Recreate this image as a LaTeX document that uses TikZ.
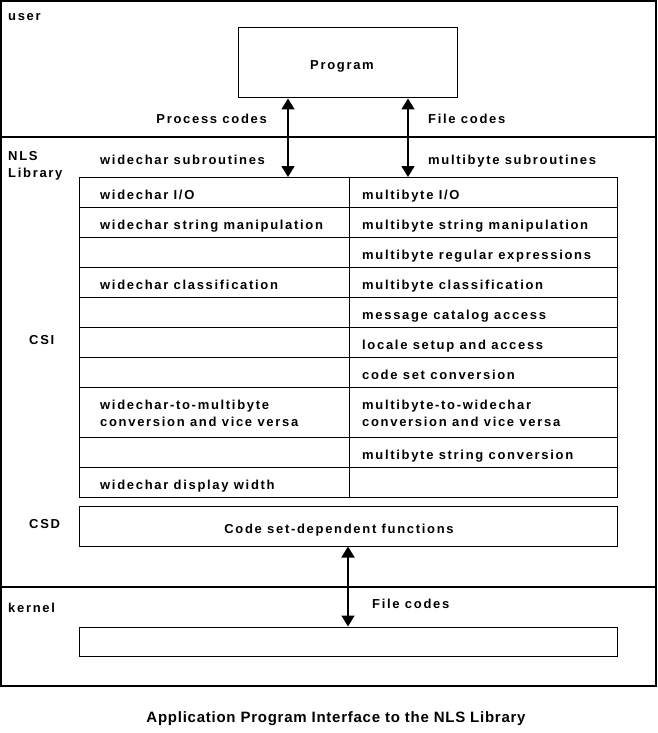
\documentclass[tikz,border=0pt]{standalone}
\usepackage{fontspec}
\setmainfont{Liberation Sans}
\newfontfamily\lblfont[LetterSpace=13]{Liberation Sans}
\newfontfamily\capfont[LetterSpace=5]{Liberation Sans}
\usetikzlibrary{arrows.meta}
\begin{document}
\begin{tikzpicture}[x=1pt,y=-1pt,
  lbl/.style={font=\lblfont\bfseries\fontsize{13}{17}\selectfont, inner sep=0pt, align=left},
  captext/.style={font=\capfont\bfseries\fontsize{15}{17}\selectfont, inner sep=0pt},
  frame/.style={draw=black, line width=1.6pt},
  box/.style={draw=black, line width=1pt, inner sep=0pt},
  dbl/.style={line width=1.6pt, {Triangle[length=11pt,width=13pt]}-{Triangle[length=11pt,width=13pt]}}]
\useasboundingbox (0,0) rectangle (658,733);
% outer frame and layer separators
\draw[frame] (1,1) rectangle (656,686);
\draw[frame] (1,137) -- (656,137);
\draw[frame] (1,587) -- (656,587);
% layer labels
\node[lbl, anchor=base west] (user) at (8,21) {user};
\node[lbl, anchor=base west] (nls) at (8,177) {NLS\\Library};
\node[lbl, anchor=base west] (csi) at (29,344) {CSI};
\node[lbl, anchor=base west] (csd) at (29,528) {CSD};
\node[lbl, anchor=base west] (kern) at (8,612) {kernel};
% program box
\node[box, minimum width=219pt, minimum height=70pt] (prog) at (347.5,63) {};
\node[lbl, anchor=base] (progt) at (342,70) {Program};
% table
\coordinate (tl) at (79,177);
\coordinate (aL) at (288,177);
\coordinate (aR) at (408,177);
\draw[line width=1pt] (79,177) rectangle (617,497);
\foreach \yy in {207,237,267,297,327,357,387,437,467}
  \draw[line width=1pt] (79,\yy) -- (617,\yy);
\draw[line width=1pt] (349,177) -- (349,497);
% arrows from program
\draw[dbl] (prog.south -| aL) -- (aL);
\draw[dbl] (prog.south -| aR) -- (aR);
\node[lbl, anchor=base east] (pc) at (267,124) {Process codes};
\node[lbl, anchor=base west] (fc) at (428,124) {File codes};
\node[lbl, anchor=base west] (ws) at (100,164) {widechar subroutines};
\node[lbl, anchor=base west] (ms) at (428,164) {multibyte subroutines};
% left column
\node[lbl, anchor=base west] (l1) at (100,199) {widechar I/O};
\node[lbl, anchor=base west] (l2) at (100,229) {widechar string manipulation};
\node[lbl, anchor=base west] (l4) at (100,289) {widechar classification};
\node[lbl, anchor=base west] (l8) at (100,426) {widechar-to-multibyte\\conversion and vice versa};
\node[lbl, anchor=base west] (l10) at (100,489) {widechar display width};
% right column
\node[lbl, anchor=base west] (r1) at (362,199) {multibyte I/O};
\node[lbl, anchor=base west] (r2) at (362,229) {multibyte string manipulation};
\node[lbl, anchor=base west] (r3) at (362,259) {multibyte regular expressions};
\node[lbl, anchor=base west] (r4) at (362,289) {multibyte classification};
\node[lbl, anchor=base west] (r5) at (362,319) {message catalog access};
\node[lbl, anchor=base west] (r6) at (362,349) {locale setup and access};
\node[lbl, anchor=base west] (r7) at (362,379) {code set conversion};
\node[lbl, anchor=base west] (r8) at (362,426) {multibyte-to-widechar\\conversion and vice versa};
\node[lbl, anchor=base west] (r9) at (362,459) {multibyte string conversion};
% CSD box
\node[box, minimum width=538pt, minimum height=40pt] (csdbox) at (348,526) {};
\node[lbl, anchor=base] (csdt) at (339,533) {Code set-dependent functions};
% kernel box
\node[box, minimum width=538pt, minimum height=29pt] (kbox) at (348,641.5) {};
\draw[dbl] (csdbox.south) -- (kbox.north);
\node[lbl, anchor=base west] (fc2) at (372,608) {File codes};
% caption
\node[captext, anchor=base] (caption) at (336,722) {Application Program Interface to the NLS Library};
\end{tikzpicture}
\end{document}
